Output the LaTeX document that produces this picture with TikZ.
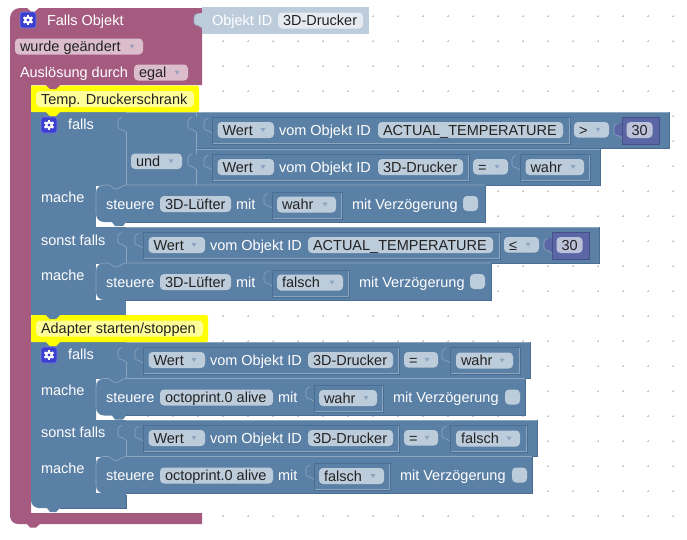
\documentclass[tikz,border=0pt]{standalone}
\usepackage{fontspec}
\setmainfont{Liberation Sans}
\definecolor{bl}{HTML}{5B80A5}
\definecolor{bld}{HTML}{4A6E93}
\definecolor{bll}{HTML}{8CA6C0}
\definecolor{fb}{HTML}{BDCCDB}
\definecolor{pk}{HTML}{A55B80}
\definecolor{fp}{HTML}{DBBDCC}
\definecolor{idb}{HTML}{BDCCDB}
\definecolor{idf}{HTML}{E5EBF1}
\definecolor{nm}{HTML}{5B67A5}
\definecolor{nmd}{HTML}{464F8A}
\definecolor{fn}{HTML}{BDC2DB}
\definecolor{yl}{HTML}{FFFF00}
\definecolor{yf}{HTML}{FFFF99}
\definecolor{ink}{HTML}{222222}
\definecolor{gear}{HTML}{3B3FD0}
\newcounter{nn}
\tikzset{
  lbl/.style={inner sep=0pt,outer sep=0pt,anchor=base west,font=\fontsize{14.5}{15}\selectfont},
  wtxt/.style={lbl,text=white},
  dtxt/.style={lbl,text=ink},
  blockbody/.style={fill=bl,draw=none},
  edge/.style={draw=bld,line width=0.7pt},
  hilite/.style={draw=bll,line width=0.6pt},
  fieldbox/.style={rounded corners=4pt,draw=none},
  dot/.style={draw=black!22,line width=0.5pt}
}
% text
\newcommand\Wt[3]{\stepcounter{nn}\node[wtxt] (n\arabic{nn}) at (#1,#2) {#3};}
\newcommand\Dt[3]{\stepcounter{nn}\node[dtxt] (n\arabic{nn}) at (#1,#2) {#3};}
% text field x1 y1 x2 y2 colour text
\newcommand\Fld[6]{\fill[fieldbox,#5] (#1,#2) rectangle (#3,#4);\Dt{#1+5}{#2+13}{#6}}
% dropdown field
\newcommand\Dd[6]{\Fld{#1}{#2}{#3}{#4}{#5}{#6}\fill[#5!50!bl] ({#3-13.5},{(#2+#4)/2-2}) -- ({#3-8.5},{(#2+#4)/2-2}) -- ({#3-11},{(#2+#4)/2+2}) -- cycle;}
% checkbox
\newcommand\Chk[2]{\fill[fieldbox,fb] (#1,#2) rectangle (#1+15,#2+15);}
% puzzle tab: x, top y, fill
\newcommand\Tab[3]{\fill[#3] (#1+0.8,#2+1) -- (#1-4,#2+1.5) .. controls (#1-7,#2+2.5) .. (#1-8,#2+5) -- (#1-8,#2+11) .. controls (#1-7,#2+13) .. (#1-4,#2+13.5) -- (#1,#2+16) -- (#1+0.8,#2+16) -- cycle;
  \draw[hilite] (#1-4,#2+1.5) .. controls (#1-7,#2+2.5) .. (#1-8,#2+5) -- (#1-8,#2+11) .. controls (#1-7,#2+13) .. (#1-4,#2+13.5) -- (#1,#2+16);}
% inner value block x1 y1 x2 y2
\newcommand\Val[4]{\Tab{#1}{#2}{bl}\draw[edge] (#1,#2) rectangle (#3,#4);\draw[hilite] (#1+0.8,#4-0.8) -- (#3-0.8,#4-0.8) -- (#3-0.8,#2+0.8);}
% row block
\newcommand\Row[4]{\fill[blockbody] (#1,#2) rectangle (#3,#4);\draw[hilite] (#1,#2+.3) -- (#3,#2+.3);\draw[edge] (#3,#2) -- (#3,#4) -- (#1,#4);}
% statement block x y x2 y2
\newcommand\Stm[4]{\fill[blockbody] (#1,#2+8) arc[start angle=180,end angle=270,radius=8] -- (#3,#2) -- (#3,#4) -- (#1+30,#4) -- (#1+27,#4+4) -- (#1+19,#4+4) -- (#1+16,#4) -- (#1+8,#4) arc[start angle=90,end angle=180,radius=8] -- cycle;
 \draw[hilite] (#1,#4-8) -- (#1,#2+8) arc[start angle=180,end angle=270,radius=8] -- (#1+12,#2) .. controls (#1+15,#2) and (#1+16,#2+4) .. (#1+20,#2+4) .. controls (#1+24,#2+4) and (#1+26,#2) .. (#1+30,#2) -- (#3,#2);
 \draw[edge] (#3,#2) -- (#3,#4) -- (#1+30,#4);}
% gear icon
\newcommand\Gear[2]{\fill[gear,rounded corners=2.5pt,draw=gear!70!white,line width=.6pt] (#1,#2) rectangle (#1+16,#2+16);
 \foreach \a in {0,60,...,300}{\fill[white,rotate around={\a:(#1+8,#2+8)}] (#1+6.9,#2+2.8) rectangle (#1+9.1,#2+5);}
 \fill[white] (#1+8,#2+8) circle (3.9);\fill[gear] (#1+8,#2+8) circle (1.7);}
% steuere row
\newcommand\Steu[8]{%
 \Stm{96}{#1}{#7}{#1+37}
 \Wt{106}{#1+24}{steuere}
 \Fld{160}{#1+11}{#2}{#1+27}{fb}{#8}
 \Wt{#2+5}{#1+24}{mit}
 \Val{#3}{#1+7}{#4}{#1+34}
 \Dd{#3+5}{#1+11.5}{#4-6}{#1+27.5}{fb}{#5}
 \Wt{#4+10}{#1+24}{mit Verzögerung}
 \Chk{#6}{#1+11}}
% Wert vom Objekt ID part
\newcommand\Wert[6]{%
 \Val{#1}{#2}{#5}{#2+27}
 \Dd{#1+5.5}{#2+5}{#1+62}{#2+21}{fb}{Wert}
 \Wt{#1+67}{#2+18}{vom Objekt ID}
 \Fld{#3}{#2+5}{#4}{#2+21}{fb}{#6}}
\begin{document}
\begin{tikzpicture}[x=1pt,y=-1pt]
\useasboundingbox (0,0) rectangle (687,539);
\fill[white] (0,0) rectangle (687,539);
% workspace dots
\foreach \i in {5,...,26}{\foreach \j in {1,...,20}{
  \pgfmathsetmacro\px{23+25*\i}\pgfmathsetmacro\py{16+25*\j}
  \draw[dot] (\px-1.2,\py) -- (\px+1.2,\py) (\px,\py-1.2) -- (\px,\py+1.2);}}
\foreach \i in {14,...,26}{
  \pgfmathsetmacro\px{23+25*\i}
  \draw[dot] (\px-1.2,16) -- (\px+1.2,16) (\px,14.8) -- (\px,17.2);}
% event block
\fill[pk] (10,18) arc[start angle=180,end angle=270,radius=10] -- (27,8) -- (31,11.5) -- (35,11.5) -- (39,8) -- (202,8) -- (202,85) -- (31,85) -- (31,513) -- (202,513) -- (202,524) -- (40,524) -- (36,527.5) -- (30,527.5) -- (27,524) -- (18,524) arc[start angle=90,end angle=180,radius=8] -- cycle;
% object id block
\Tab{202}{12}{idb}
\fill[idb] (202,7) rectangle (369,33.5);
\Wt{212}{25.5}{Objekt ID}
\Fld{278}{12.5}{363}{28.5}{idf}{3D-Drucker}
\Gear{20}{12}
\Wt{47}{25.5}{Falls Objekt}
\Dd{15}{38.5}{143}{54.5}{fp}{wurde geändert}
\Wt{20}{77}{Auslösung durch}
\Dd{134}{64.5}{188}{80.5}{fp}{egal}
% ---- first if
\fill[blockbody] (31,112) rectangle (96,315);
\fill[blockbody] (96,112) rectangle (126,186);
\fill[blockbody] (96,226.5) rectangle (126,263.5);
\fill[blockbody] (96,300) rectangle (126,315);
\Row{126}{112}{196}{185}
\Row{196}{112}{669}{148}
\Row{196}{148.5}{600}{185}
\draw[hilite] (126,185) -- (196,185) (126,132) -- (126,185) (196,112) -- (196,185);
\Tab{126}{116}{bl}\Tab{196}{116}{bl}\Tab{196}{153}{bl}
\Row{126}{226.5}{599}{263.5}
\draw[hilite] (126,247) -- (126,263);
\Tab{126}{231}{bl}
\Gear{41}{117}
\Wt{68}{129}{falls}
\Dd{131}{153.5}{182}{169}{fb}{und}
\Wert{212}{117}{378}{563}{570}{ACTUAL\_TEMPERATURE}
\Dd{574}{122}{609}{137.5}{fb}{>}
\Tab{622}{122}{nm}
\fill[nm,draw=nmd,line width=.7pt] (622,117) rectangle (659,144);
\Fld{626.5}{122}{652.5}{138}{fn}{30}
\Wert{212}{154}{378}{463}{469}{3D-Drucker}
\Dd{473}{159}{508}{174.5}{fb}{=}
\Val{520}{154}{590}{181}
\Dd{525.5}{159}{584}{175}{fb}{wahr}
\Wt{41}{202}{mache}
\Steu{185}{231}{272}{342}{wahr}{463}{485}{3D-Lüfter}
\Wt{41}{245}{sonst falls}
\Wert{143}{232}{308}{493}{500}{ACTUAL\_TEMPERATURE}
\Dd{504}{237}{539}{252.5}{fb}{≤}
\Tab{552}{237}{nm}
\fill[nm,draw=nmd,line width=.7pt] (552,232) rectangle (589,259);
\Fld{556.5}{237}{582.5}{253}{fn}{30}
\Wt{41}{280}{mache}
\Steu{263}{231}{272}{349}{falsch}{470}{491}{3D-Lüfter}
% comment 1
\fill[yl,rounded corners=2pt] (31,85.5) rectangle (199,112);
\fill[pk] (46,85) -- (50,89) -- (56,89) -- (60,85) -- cycle;
\fill[yl] (46,112) -- (50,116) -- (56,116) -- (60,112) -- cycle;
\Fld{36}{91}{194}{107}{yf}{Temp. Druckerschrank}
% ---- second if
\fill[blockbody] (31,342) -- (96,342) -- (96,508) -- (60,508) -- (56,512) -- (50,512) -- (47,508) -- (39,508) arc[start angle=90,end angle=180,radius=8] -- cycle;
\fill[blockbody] (96,342) rectangle (126,379);
\fill[blockbody] (96,419.5) rectangle (126,457);
\fill[blockbody] (96,493) rectangle (126,508);
\draw[edge] (126,495) -- (126,508) -- (60,508);
\Row{126}{342}{530}{378.5}
\draw[hilite] (126,362) -- (126,378);
\Row{126}{419.5}{537}{456.5}
\draw[hilite] (126,440) -- (126,456);
\Tab{126}{346}{bl}\Tab{126}{424}{bl}
\Gear{41}{347}
\Wt{68}{359}{falls}
\Wert{143}{347}{308}{393}{399}{3D-Drucker}
\Dd{404}{352}{438}{367.5}{fb}{=}
\Val{450}{347}{520}{374}
\Dd{456}{352.5}{513}{368.5}{fb}{wahr}
\Wt{41}{395}{mache}
\Steu{378.5}{273}{314}{383}{wahr}{505}{525}{octoprint.0 alive}
\Wt{41}{437}{sonst falls}
\Wert{143}{425}{308}{393}{399}{3D-Drucker}
\Dd{404}{430}{438}{445.5}{fb}{=}
\Val{450}{425}{527}{452}
\Dd{456}{430.5}{520}{446.5}{fb}{falsch}
\Wt{41}{473}{mache}
\Steu{456.5}{273}{314}{390}{falsch}{512}{532}{octoprint.0 alive}
% comment 2
\fill[yl,rounded corners=2pt] (31,315) rectangle (208,342);
\fill[bl] (46,315) -- (50,319) -- (56,319) -- (60,315) -- cycle;
\fill[yl] (46,342) -- (50,346) -- (56,346) -- (60,342) -- cycle;
\Fld{36}{320.5}{203}{336.5}{yf}{Adapter starten/stoppen}
\end{tikzpicture}
\end{document}
